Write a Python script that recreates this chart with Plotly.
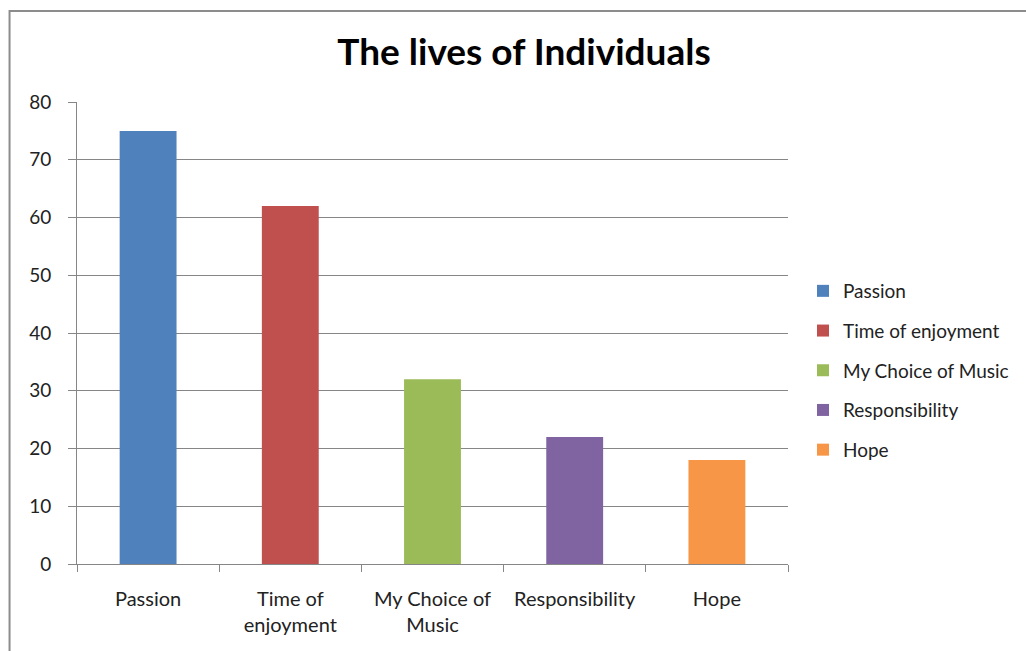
import plotly.graph_objects as go

categories = ["Passion", "Time of<br>enjoyment", "My Choice of<br>Music", "Responsibility", "Hope"]
legend_names = ["Passion", "Time of enjoyment", "My Choice of Music", "Responsibility", "Hope"]
values = [75, 62, 32, 22, 18]
colors = ["#4F81BD", "#C0504D", "#9BBB59", "#8064A2", "#F79646"]

FONT = "Lato, Carlito, Calibri, sans-serif"

fig = go.Figure()
for i, (cat, name, v, c) in enumerate(zip(categories, legend_names, values, colors)):
    fig.add_trace(go.Bar(x=[cat], y=[v], name=name, marker_color=c, width=0.4,
                         legendgroup=f"g{i}", marker_line_width=0))

W, H = 1026, 651
L, R, T, B = 76.5, 238, 102, 87
pw, ph = W - L - R, H - T - B

fig.update_layout(
    width=W, height=H,
    margin=dict(l=L, r=R, t=T, b=B, autoexpand=False),
    paper_bgcolor="white", plot_bgcolor="white",
    barmode="overlay",
    font=dict(family=FONT, size=19, color="#222222"),
    title=dict(text="<b>The lives of Individuals</b>", x=524 / W, xanchor="center",
               y=1 - 52 / H, yanchor="middle", font=dict(size=37, color="#000000", family=FONT)),
    xaxis=dict(categoryorder="array", categoryarray=categories, showgrid=False,
               showline=True, linecolor="#868686", linewidth=1,
               ticks="outside", tickson="boundaries", ticklen=7, tickcolor="#868686",
               ticklabelstandoff=17,
               tickfont=dict(size=20, color="#222222"), fixedrange=True),
    yaxis=dict(range=[0, 80], dtick=10, showgrid=True, gridcolor="#868686", gridwidth=1,
               showline=True, linecolor="#868686", linewidth=1, zeroline=False,
               ticks="outside", ticklen=8, tickcolor="#868686", ticklabelstandoff=13,
               tickfont=dict(size=19, color="#222222"), fixedrange=True),
    legend=dict(x=(803 - L) / pw, xanchor="left", y=1 - (272 - T) / ph, yanchor="top",
                font=dict(size=19, color="#222222"), tracegroupgap=12,
                traceorder="grouped", itemwidth=30, bgcolor="rgba(0,0,0,0)"),
    showlegend=True,
)

fig.add_shape(type="rect", xref="paper", yref="paper",
              x0=(9 - L) / pw, x1=1.5, y0=-0.5, y1=1 + (T - 11) / ph,
              line=dict(color="#8c8c8c", width=2), layer="below")

fig.write_html("out.html")
